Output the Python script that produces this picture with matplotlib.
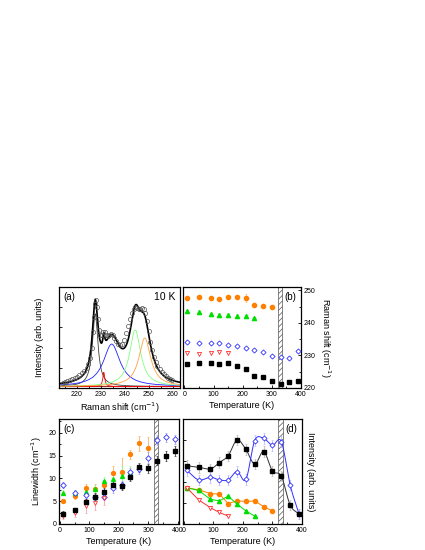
import numpy as np
import matplotlib
matplotlib.use("Agg")
import matplotlib.pyplot as plt
from matplotlib.ticker import MultipleLocator, NullFormatter

plt.rcParams['font.family'] = ['Liberation Sans', 'DejaVu Sans']
plt.rcParams['hatch.linewidth'] = 0.5

# (a) 10 K spectrum, measured points
shift = [214.0, 215.0, 216.0, 217.0, 218.0, 219.0, 220.0, 221.0, 222.0, 223.0,
         224.0, 224.8, 225.5, 226.1, 226.6, 227.0, 227.4, 227.8, 228.2, 228.6,
         229.1, 229.7, 230.3, 230.9, 231.5, 232.1, 232.8, 233.5, 234.2, 234.9,
         235.6, 236.4, 237.2, 238.0, 238.8, 239.6, 240.4, 241.2, 242.0, 242.8,
         243.6, 244.3, 245.0, 245.7, 246.4, 247.1, 247.8, 248.5, 249.2, 249.9,
         250.6, 251.3, 252.0, 252.8, 253.6, 254.5, 255.4, 256.3, 257.2, 258.1,
         259.0, 259.8]
inten = [0.05, 0.06, 0.07, 0.08, 0.09, 0.10, 0.11, 0.13, 0.15, 0.17,
         0.20, 0.24, 0.30, 0.40, 0.55, 0.70, 0.83, 0.87, 0.80, 0.68,
         0.57, 0.52, 0.52, 0.55, 0.55, 0.52, 0.51, 0.52, 0.53, 0.52,
         0.50, 0.47, 0.44, 0.43, 0.44, 0.48, 0.54, 0.61, 0.68, 0.74,
         0.78, 0.80, 0.79, 0.78, 0.78, 0.79, 0.78, 0.74, 0.66, 0.56,
         0.46, 0.38, 0.31, 0.26, 0.22, 0.19, 0.16, 0.14, 0.12, 0.10,
         0.09, 0.08]

# Lorentzian fit components
peak_pos = [227.6, 231.2, 234.5, 244.3, 248.3]
peak_hwhm = [1.4, 0.5, 4.2, 2.8, 3.0]
peak_amp = [0.72, 0.14, 0.42, 0.56, 0.48]
base_level = 0.015

# temperature series
temp = [10, 50, 90, 120, 150, 180, 210, 240, 270, 300, 330, 360, 390]

# (b) Raman shift (cm-1)
b_black = [227.5, 227.8, 227.7, 227.5, 227.7, 226.6, 225.8, 223.7, 223.3, 222.1, 221.3, 221.9, 222.1]
b_blue = [234.0, 233.8, 233.8, 233.8, 233.2, 232.8, 232.3, 231.8, 230.9, 229.8, 229.6, 229.2, 231.5]
b_orange = [247.6, 247.9, 247.6, 247.2, 247.8, 247.8, 247.7, 245.5, 245.2, 244.8]
b_green = [243.6, 243.4, 242.6, 242.4, 242.3, 242.2, 242.0, 241.6]
b_red = [230.7, 230.4, 230.6, 231.1, 230.8]
b_orange_err = [0.2, 0.2, 0.2, 0.2, 0.3, 0.3, 1.2, 0.3, 0.3, 0.3]

# (c) linewidth (cm-1)
c_black = [2.3, 3.0, 4.8, 6.0, 7.1, 8.6, 8.4, 10.3, 12.4, 12.2, 13.9, 14.8, 16.0]
c_blue = [8.5, 6.7, 6.4, 6.0, 6.0, 7.8, 8.5, 11.3, 12.0, 14.5, 18.4, 19.0, 18.6]
c_orange = [5.1, 6.1, 7.8, 7.6, 8.5, 11.2, 11.4, 15.3, 17.7, 16.7]
c_green = [6.9, 6.8, 7.0, 7.6, 9.5, 9.8, 10.6, 11.4]
c_red = [1.7, 2.5, 3.9, 4.6, 5.6]
c_black_err = [0.5, 0.6, 0.6, 0.8, 0.8, 0.8, 0.9, 0.9, 1.0, 1.0, 1.0, 1.1, 1.1]
c_blue_err = [0.7, 0.7, 0.8, 0.8, 0.8, 0.9, 0.9, 1.0, 1.0, 1.2, 1.0, 1.0, 1.0]
c_orange_err = [0.4, 0.6, 1.0, 1.1, 1.0, 1.5, 3.0, 1.0, 1.6, 2.3]
c_green_err = [0.6, 0.6, 0.8, 0.9, 0.9, 1.0, 2.0, 1.3]
c_red_err = [0.6, 1.0, 1.5, 1.5, 1.5]

# (d) intensity (arb. units)
d_black = [5.55, 5.4, 5.25, 5.85, 6.5, 8.0, 7.1, 5.7, 6.9, 5.05, 4.55, 1.8, 0.95]
d_blue = [5.1, 4.2, 4.45, 4.2, 4.2, 5.0, 4.25, 7.95, 8.15, 7.5, 7.85, 3.7, 0.95]
d_orange = [3.45, 3.25, 2.9, 2.85, 1.95, 2.2, 2.15, 2.2, 1.65, 1.25]
d_green = [3.45, 3.2, 2.35, 2.2, 2.65, 1.9, 1.25, 0.75]
d_red = [3.45, 2.3, 1.55, 1.1, 0.75]
d_err = 0.5

BLACK = 'black'
BLUE = '#3030ff'
ORANGE = '#ff8000'
GREEN = '#00dd00'
RED = '#ff3030'


def lorentz(x, x0, g, a):
    return a / (1.0 + ((x - x0) / g) ** 2)


def smooth(x, y, n=24):
    """Catmull-Rom curve through the points (for the guide lines in d)"""
    px = np.concatenate([[2 * x[0] - x[1]], x, [2 * x[-1] - x[-2]]]).astype(float)
    py = np.concatenate([[2 * y[0] - y[1]], y, [2 * y[-1] - y[-2]]]).astype(float)
    t = np.linspace(0, 1, n, endpoint=False)
    xs, ys = [], []
    for i in range(1, len(px) - 2):
        for arr, out in ((px, xs), (py, ys)):
            p0, p1, p2, p3 = arr[i - 1:i + 3]
            out.append(0.5 * (2 * p1 + (-p0 + p2) * t + (2 * p0 - 5 * p1 + 4 * p2 - p3) * t ** 2
                              + (-p0 + 3 * p1 - 3 * p2 + p3) * t ** 3))
    xs.append([px[-2]])
    ys.append([py[-2]])
    return np.concatenate(xs), np.concatenate(ys)


def style(ax):
    for sp in ax.spines.values():
        sp.set_linewidth(0.9)
    ax.tick_params(which='both', direction='in', labelsize=5, width=0.6, pad=2)
    ax.tick_params(which='major', length=2.5)
    ax.tick_params(which='minor', length=1.5)


def hatch(ax):
    ax.axvspan(320, 335, facecolor='white', edgecolor='#555555', hatch='//////', lw=0.5, zorder=1)


W, H = 425, 550
fig = plt.figure(figsize=(W / 100, H / 100), dpi=100)


def box(x0, y0, x1, y1):
    return fig.add_axes([x0 / W, 1 - y1 / H, (x1 - x0) / W, (y1 - y0) / H])


ax_a = box(59, 287, 180, 388)
ax_b = box(183, 287, 301, 388)
ax_c = box(59, 419, 179, 524)
ax_d = box(183, 419, 302, 524)

# ---- (a)
xx = np.linspace(212.5, 263, 600)
comp_colors = ['#404040', '#ff0000', '#2020ff', '#80ff80', '#ffa040']
total = np.full_like(xx, base_level)
ax_a.plot(xx, np.full_like(xx, base_level), color='#900000', lw=0.6)
for x0, g, a, col in zip(peak_pos, peak_hwhm, peak_amp, comp_colors):
    comp = lorentz(xx, x0, g, a)
    total += comp
    ax_a.plot(xx, comp + base_level, color=col, lw=0.6)
ax_a.plot(xx, total, color='black', lw=1.2, zorder=3)
ax_a.plot(shift, inten, 'o', ms=3, mfc='none', mec='#555555', mew=0.5, zorder=4)
ax_a.set_xlim(212.5, 263)
ax_a.set_ylim(0, 1.0)
ax_a.xaxis.set_major_locator(MultipleLocator(10))
ax_a.xaxis.set_minor_locator(MultipleLocator(5))
ax_a.yaxis.set_major_locator(MultipleLocator(0.2))
ax_a.yaxis.set_major_formatter(NullFormatter())
style(ax_a)
ax_a.set_xlabel('Raman shift (cm$^{-1}$)', fontsize=6.5, labelpad=2)
ax_a.set_ylabel('Intensity (arb. units)', fontsize=6.5, labelpad=9)
ax_a.text(0.04, 0.95, '(a)', transform=ax_a.transAxes, fontsize=7, va='top')
ax_a.text(0.96, 0.95, '10 K', transform=ax_a.transAxes, fontsize=7.5, va='top', ha='right')

# ---- (b)
hatch(ax_b)
ms = 3
ax_b.plot(temp[:len(b_orange)], b_orange, 'o', color=ORANGE, ms=ms, zorder=3)
ax_b.errorbar(temp[:len(b_orange)], b_orange, yerr=b_orange_err, fmt='none',
              ecolor='#ffc080', elinewidth=0.6, capsize=1, capthick=0.5, zorder=2)
ax_b.plot(temp[:len(b_green)], b_green, '^', color=GREEN, ms=ms, zorder=3)
ax_b.plot(temp, b_blue, 'D', mfc='white', mec=BLUE, mew=0.6, ms=2.6, zorder=3)
ax_b.plot(temp[:len(b_red)], b_red, 'v', mfc='white', mec=RED, mew=0.6, ms=3, zorder=3)
ax_b.plot(temp, b_black, 's', color=BLACK, ms=2.6, zorder=3)
ax_b.set_xlim(-5, 400)
ax_b.set_ylim(220, 251)
ax_b.xaxis.set_major_locator(MultipleLocator(100))
ax_b.xaxis.set_minor_locator(MultipleLocator(50))
ax_b.yaxis.set_major_locator(MultipleLocator(10))
ax_b.yaxis.set_minor_locator(MultipleLocator(5))
ax_b.yaxis.tick_right()
ax_b.yaxis.set_label_position('right')
style(ax_b)
ax_b.set_xlabel('Temperature (K)', fontsize=6.5, labelpad=2)
ax_b.set_ylabel('Raman shift (cm$^{-1}$)', fontsize=6.5, rotation=270, labelpad=12)
ax_b.text(0.96, 0.95, '(b)', transform=ax_b.transAxes, fontsize=7, va='top', ha='right')

# ---- (c)
hatch(ax_c)
series_c = [
    (c_orange, c_orange_err, dict(marker='o', color=ORANGE), '#ffb060'),
    (c_green, c_green_err, dict(marker='^', color=GREEN), '#90ff90'),
    (c_blue, c_blue_err, dict(marker='D', mfc='white', mec=BLUE, mew=0.6), '#a0a0ff'),
    (c_red, c_red_err, dict(marker='v', mfc='white', mec=RED, mew=0.6), '#ffa0a0'),
    (c_black, c_black_err, dict(marker='s', color=BLACK), '#404040'),
]
for vals, err, mk, ecol in series_c:
    tt = temp[:len(vals)]
    ax_c.errorbar(tt, vals, yerr=err, fmt='none', ecolor=ecol, elinewidth=0.6,
                  capsize=1, capthick=0.5, zorder=2)
    ax_c.plot(tt, vals, ls='none', ms=2.8, zorder=3, **mk)
ax_c.set_xlim(-3, 405)
ax_c.set_ylim(0, 23)
ax_c.xaxis.set_major_locator(MultipleLocator(100))
ax_c.xaxis.set_minor_locator(MultipleLocator(50))
ax_c.yaxis.set_major_locator(MultipleLocator(5))
ax_c.yaxis.set_minor_locator(MultipleLocator(2.5))
style(ax_c)
ax_c.set_xlabel('Temperature (K)', fontsize=6.5, labelpad=2)
ax_c.set_ylabel('Linewidth (cm$^{-1}$)', fontsize=6.5, labelpad=3)
ax_c.text(0.04, 0.95, '(c)', transform=ax_c.transAxes, fontsize=7, va='top')

# ---- (d)
hatch(ax_d)
sx, sy = smooth(np.array(temp), np.array(d_black))
ax_d.plot(sx, sy, color='#303030', lw=0.7, zorder=2)
sx, sy = smooth(np.array(temp), np.array(d_blue))
ax_d.plot(sx, sy, color=BLUE, lw=0.7, zorder=2)
ax_d.errorbar(temp, d_black, yerr=d_err, fmt='none', ecolor='#b0b0b0', elinewidth=0.5, capsize=1, capthick=0.4, zorder=1.5)
ax_d.errorbar(temp, d_blue, yerr=d_err, fmt='none', ecolor='#b0b0ff', elinewidth=0.5, capsize=1, capthick=0.4, zorder=1.5)
ax_d.plot(temp[:len(d_orange)], d_orange, '-o', color=ORANGE, lw=0.7, ms=3, zorder=3)
ax_d.plot(temp[:len(d_green)], d_green, '-^', color=GREEN, lw=0.7, ms=3, zorder=3)
ax_d.plot(temp[:len(d_red)], d_red, '-v', color=RED, mfc='white', mew=0.6, lw=0.7, ms=3, zorder=3)
ax_d.plot(temp, d_blue, 'D', ls='none', mfc='white', mec=BLUE, mew=0.6, ms=2.6, zorder=3)
ax_d.plot(temp, d_black, 's', ls='none', color=BLACK, ms=2.8, zorder=3)
ax_d.set_xlim(-3, 400)
ax_d.set_ylim(0, 10)
ax_d.xaxis.set_major_locator(MultipleLocator(100))
ax_d.xaxis.set_minor_locator(MultipleLocator(50))
ax_d.yaxis.set_major_locator(MultipleLocator(2))
ax_d.yaxis.set_major_formatter(NullFormatter())
style(ax_d)
ax_d.yaxis.set_label_position('right')
ax_d.set_xlabel('Temperature (K)', fontsize=6.5, labelpad=2)
ax_d.set_ylabel('Intensity (arb. units)', fontsize=6.5, rotation=270, labelpad=9)
ax_d.text(0.96, 0.95, '(d)', transform=ax_d.transAxes, fontsize=7, va='top', ha='right')

fig.savefig('out.png', dpi=100)
